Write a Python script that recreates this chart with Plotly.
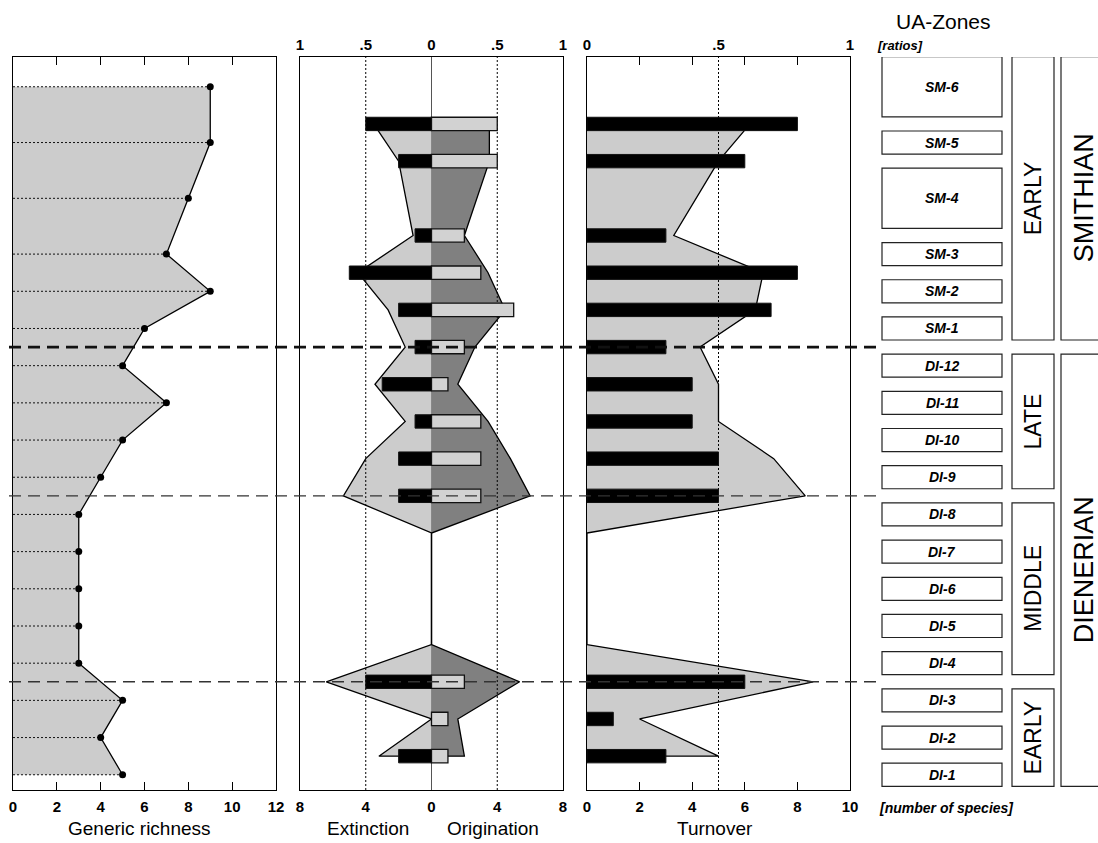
import numpy as np
import plotly.graph_objects as go

# ---------------- data ----------------
zones = ["DI-1", "DI-2", "DI-3", "DI-4", "DI-5", "DI-6", "DI-7", "DI-8", "DI-9",
         "DI-10", "DI-11", "DI-12", "SM-1", "SM-2", "SM-3", "SM-4", "SM-5", "SM-6"]
zone_units = [1, 1, 1, 1, 1, 1, 1, 1, 1, 1, 1, 1, 1, 1, 1, 2, 1, 2]   # relative zone thickness
richness = [5, 4, 5, 3, 3, 3, 3, 3, 4, 5, 7, 5, 6, 9, 7, 8, 9, 9]

# values at each zone's upper boundary (DI-1 ... SM-5)
extinction = [2, 0, 4, 0, 0, 0, 0, 2, 2, 1, 3, 1, 2, 5, 1, 2, 4]
origination = [1, 1, 2, 0, 0, 0, 0, 3, 3, 3, 1, 2, 5, 3, 2, 4, 4]
turnover = [3, 1, 6, 0, 0, 0, 0, 5, 5, 4, 4, 3, 7, 8, 3, 6, 8]
extinction_ratio = [0.40, 0.00, 0.80, 0, 0, 0, 0, 0.67, 0.50, 0.20, 0.43, 0.20, 0.33, 0.56, 0.14, 0.25, 0.44]
origination_ratio = [0.25, 0.20, 0.67, 0, 0, 0, 0, 0.75, 0.60, 0.43, 0.20, 0.33, 0.56, 0.43, 0.25, 0.44, 0.44]
turnover_ratio = [0.50, 0.20, 0.86, 0, 0, 0, 0, 0.83, 0.71, 0.50, 0.50, 0.43, 0.64, 0.67, 0.33, 0.50, 0.62]

substages = [("EARLY", 0, 2), ("MIDDLE", 3, 7), ("LATE", 8, 11), ("EARLY", 12, 17)]
stages = [("DIENERIAN", 0, 11), ("SMITHIAN", 12, 17)]
substage_breaks = [(2, "thin"), (7, "thin"), (11, "thick")]   # index of zone below the break

richness_ticks = [0, 2, 4, 6, 8, 10, 12]
species_ticks = [-8, -4, 0, 4, 8]
species_text = ["8", "4", "0", "4", "8"]
ratio_ticks = [-1, -0.5, 0, 0.5, 1]
ratio_text = ["1", ".5", "0", ".5", "1"]
turn_ticks = [0, 2, 4, 6, 8, 10]
turn_ratio_ticks = [0, 0.5, 1]
turn_ratio_text = ["0", ".5", "1"]

# ---------------- geometry ----------------
W, H = 1098, 843
MT, MB = 57, 53
Y_RANGE = [-0.41, 19.3]
FONT = "Liberation Sans, Arial, Helvetica, sans-serif"


def px(xpix):
    return xpix / W


def py(ypix):
    return (H - MB - ypix) / (H - MT - MB)


dom1 = [px(13), px(276)]
dom2 = [px(300), px(563)]
dom3 = [px(587), px(850)]

bounds = -0.5 + np.concatenate([[0], np.cumsum(zone_units)])
centers = (bounds[:-1] + bounds[1:]) / 2
tops = bounds[1:-1]

fig = go.Figure()

# ---------------- panel 1: generic richness ----------------
fig.add_trace(go.Scatter(x=richness, y=centers, mode="none", fill="tozerox",
                         fillcolor="#cccccc", xaxis="x", yaxis="y", hoverinfo="skip"))
dx, dy = [], []
for v, c in zip(richness, centers):
    dx += [0, v, None]
    dy += [c, c, None]
fig.add_trace(go.Scatter(x=dx, y=dy, mode="lines", line=dict(color="#111", width=1, dash="2px,2px"),
                         xaxis="x", yaxis="y", hoverinfo="skip"))
fig.add_trace(go.Scatter(x=richness, y=centers, mode="lines+markers",
                         line=dict(color="black", width=1.3), marker=dict(size=7, color="black"),
                         xaxis="x", yaxis="y"))

# ---------------- panel 2: extinction / origination ----------------
ex_poly_x = [0] + [-r for r in extinction_ratio] + [0]
ex_poly_y = [tops[0]] + list(tops) + [tops[-1]]
fig.add_trace(go.Scatter(x=ex_poly_x, y=ex_poly_y, mode="lines", fill="toself", fillcolor="#cccccc",
                         line=dict(color="black", width=1.3), xaxis="x2", yaxis="y2", hoverinfo="skip"))
or_poly_x = [0] + list(origination_ratio) + [0]
fig.add_trace(go.Scatter(x=or_poly_x, y=ex_poly_y, mode="lines", fill="toself", fillcolor="#808080",
                         line=dict(color="black", width=1.3), xaxis="x2", yaxis="y2", hoverinfo="skip"))
# dotted reference lines at ratio .5
fig.add_trace(go.Scatter(x=[-0.5, -0.5, None, 0.5, 0.5],
                         y=[Y_RANGE[0], Y_RANGE[1], None, Y_RANGE[0], Y_RANGE[1]],
                         mode="lines", line=dict(color="black", width=1, dash="2px,2px"),
                         xaxis="x2", yaxis="y2", hoverinfo="skip"))

ex_y = [t for t, v in zip(tops, extinction) if v > 0]
ex_v = [-v for v in extinction if v > 0]
or_y = [t for t, v in zip(tops, origination) if v > 0]
or_v = [v for v in origination if v > 0]
fig.add_trace(go.Bar(x=ex_v, y=ex_y, orientation="h", width=0.36,
                     marker=dict(color="black", line=dict(color="#111", width=1)),
                     xaxis="x4", yaxis="y2"))
fig.add_trace(go.Bar(x=or_v, y=or_y, orientation="h", width=0.36,
                     marker=dict(color="#d2d2d2", line=dict(color="#111", width=1.3)),
                     xaxis="x4", yaxis="y2"))

# ---------------- panel 3: turnover ----------------
tu_poly_x = [0] + list(turnover_ratio) + [0]
fig.add_trace(go.Scatter(x=tu_poly_x, y=ex_poly_y, mode="lines", fill="toself", fillcolor="#cccccc",
                         line=dict(color="black", width=1.3), xaxis="x3", yaxis="y3", hoverinfo="skip"))
fig.add_trace(go.Scatter(x=[0.5, 0.5], y=Y_RANGE, mode="lines",
                         line=dict(color="black", width=1, dash="2px,2px"),
                         xaxis="x3", yaxis="y3", hoverinfo="skip"))
tu_y = [t for t, v in zip(tops, turnover) if v > 0]
tu_v = [v for v in turnover if v > 0]
fig.add_trace(go.Bar(x=tu_v, y=tu_y, orientation="h", width=0.36,
                     marker=dict(color="black", line=dict(color="#111", width=1)),
                     xaxis="x5", yaxis="y3"))

# ---------------- axes ----------------
tickfont = dict(family=FONT, size=15, color="black", weight="bold")
frame = dict(showline=True, linecolor="black", linewidth=1.3, automargin=False)
yax = dict(range=Y_RANGE, domain=[0, 1], showticklabels=False, ticks="", showgrid=False,
           zeroline=False, mirror=True, **frame)

fig.update_layout(
    width=W, height=H, margin=dict(l=0, r=0, t=MT, b=MB, autoexpand=False),
    paper_bgcolor="white", plot_bgcolor="white", showlegend=False, barmode="overlay",
    font=dict(family=FONT, color="black"),
    xaxis=dict(domain=dom1, anchor="y", range=[0, 12], tickvals=richness_ticks, ticks="inside",
               ticklen=8, tickwidth=1.2, tickcolor="black", mirror="allticks", showgrid=False,
               zeroline=False, tickfont=tickfont, ticklabelstandoff=3, **frame),
    yaxis=dict(anchor="x", **yax),
    xaxis2=dict(domain=dom2, anchor="y2", side="top", range=[-1, 1], tickvals=ratio_ticks,
                ticktext=ratio_text, ticks="", showgrid=False, zeroline=True, zerolinecolor="#555",
                zerolinewidth=1, tickfont=tickfont, **frame),
    yaxis2=dict(anchor="x2", **yax),
    xaxis4=dict(overlaying="x2", anchor="y2", side="bottom", range=[-8, 8], tickvals=species_ticks,
                ticktext=species_text, ticks="", showgrid=False, zeroline=False, mirror=True,
                tickfont=tickfont, ticklabelstandoff=3, **frame),
    xaxis3=dict(domain=dom3, anchor="y3", side="top", range=[0, 1], tickvals=turn_ratio_ticks,
                ticktext=turn_ratio_text, ticks="", showgrid=False, zeroline=False,
                tickfont=tickfont, **frame),
    yaxis3=dict(anchor="x3", **yax),
    xaxis5=dict(overlaying="x3", anchor="y3", side="bottom", range=[0, 10], tickvals=turn_ticks,
                ticks="inside", ticklen=8, tickwidth=1.2, tickcolor="black", mirror="allticks",
                showgrid=False, zeroline=False, tickfont=tickfont, ticklabelstandoff=3, **frame),
)

# ---------------- horizontal substage break lines ----------------
shapes = []
for idx, kind in substage_breaks:
    yb = bounds[idx + 1]
    shapes.append(dict(type="line", xref="paper", yref="y", x0=px(9), x1=px(882), y0=yb, y1=yb,
                       line=dict(color="#111" if kind == "thick" else "#333",
                                 width=2.6 if kind == "thick" else 1.4,
                                 dash="12px,7px"), layer="above"))

# ---------------- UA zone boxes ----------------
INSET = 0.19
annotations = []
for name, lo, hi, c in zip(zones, bounds[:-1], bounds[1:], centers):
    shapes.append(dict(type="rect", xref="paper", yref="y", x0=px(882), x1=px(1002),
                       y0=lo + INSET, y1=hi - INSET, line=dict(color="#222", width=1.2)))
    annotations.append(dict(x=px(942), y=c, xref="paper", yref="y", text=f"<b><i>{name}</i></b>",
                            xanchor="center", yanchor="middle",
                            showarrow=False, font=dict(size=14, family=FONT)))

for name, a, b in substages:
    lo, hi = bounds[a] + INSET, bounds[b + 1] - INSET
    shapes.append(dict(type="rect", xref="paper", yref="y", x0=px(1012), x1=px(1054),
                       y0=lo, y1=hi, line=dict(color="#222", width=1.2)))
    annotations.append(dict(x=px(1033), y=(lo + hi) / 2, xref="paper", yref="y", text=name,
                            xanchor="center", yanchor="middle",
                            textangle=-90, showarrow=False, font=dict(size=23, family=FONT)))

for name, a, b in stages:
    lo, hi = bounds[a] + INSET, bounds[b + 1] - INSET
    shapes.append(dict(type="rect", xref="paper", yref="y", x0=px(1061), x1=px(1115),
                       y0=lo, y1=hi, line=dict(color="#222", width=1.2)))
    annotations.append(dict(x=px(1084), y=(lo + hi) / 2, xref="paper", yref="y", text=name,
                            xanchor="center", yanchor="middle",
                            textangle=-90, showarrow=False, font=dict(size=27, family=FONT)))


# ---------------- titles / labels ----------------
def label(text, xpix, ypix, size):
    annotations.append(dict(x=px(xpix), y=py(ypix), xref="paper", yref="paper", text=text,
                            xanchor="center", yanchor="middle",
                            showarrow=False, font=dict(size=size, family=FONT)))


label("Generic richness", 139, 828, 19)
label("Extinction", 368, 828, 19)
label("Origination", 493, 828, 19)
label("Turnover", 715, 828, 19)
label("UA-Zones", 943, 21, 21)
label("<b><i>[ratios]</i></b>", 900, 45, 13)
label("<b><i>[number of species]</i></b>", 946, 808, 14)

fig.update_layout(shapes=shapes, annotations=annotations)
fig.write_html("out.html", config={"displayModeBar": False},
               post_script="document.body.style.margin='0px';document.body.style.overflow='hidden';")
